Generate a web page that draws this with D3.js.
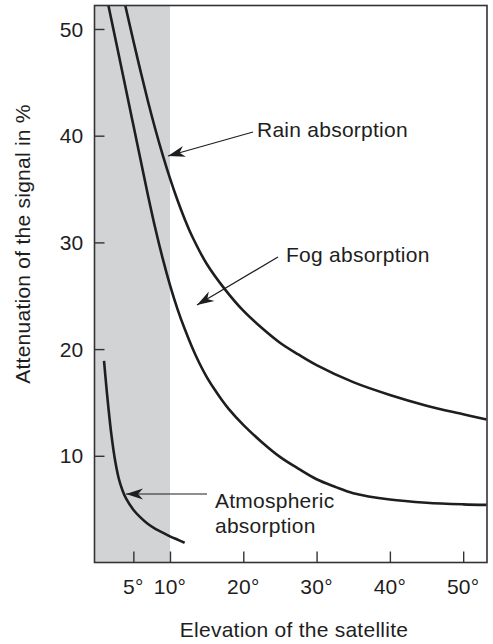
<!DOCTYPE html>
<html>
<head>
<meta charset="utf-8">
<script src="https://cdn.jsdelivr.net/npm/d3@7"></script>
<style>
html,body{margin:0;padding:0;background:#fff;}
svg{display:block;font-family:"Liberation Sans",Arial,Helvetica,sans-serif;}
</style>
</head>
<body>
<svg id="chart" width="493" height="644"></svg>
<script>
// ---- data ----
const xTicks = [5, 10, 20, 30, 40, 50];
const xTickLabels = ["5°", "10°", "20°", "30°", "40°", "50°"];
const yTicks = [10, 20, 30, 40, 50];
const yTickLabels = ["10", "20", "30", "40", "50"];
const shadedRange = [0, 10];

const rainElev = [3.9, 5, 6, 7, 8, 9, 10, 11, 12, 13, 15, 17.5, 20, 22.5, 25, 27.5, 30, 35, 40, 45, 50, 53.2];
const rainAtt  = [52.2, 48.9, 46.0, 43.2, 40.6, 38.2, 36.0, 34.0, 32.2, 30.6, 28.0, 25.6, 23.6, 22.0, 20.6, 19.5, 18.5, 16.9, 15.7, 14.7, 13.9, 13.4];

const fogElev = [1.6, 2.3, 3, 4, 5, 6, 7, 8, 9, 10, 11, 12, 13, 14, 15, 16, 17, 18, 20, 22.5, 25, 27.5, 30, 32.5, 35, 40, 45, 50, 53.2];
const fogAtt  = [52.2, 49.9, 47.6, 44.3, 41.0, 37.7, 34.4, 31.3, 28.5, 26.0, 23.8, 21.9, 20.2, 18.7, 17.4, 16.3, 15.3, 14.4, 12.9, 11.3, 9.9, 8.8, 7.8, 7.1, 6.5, 5.9, 5.6, 5.45, 5.4];

const atmElev = [1.0, 1.3, 1.6, 2.0, 2.5, 3.0, 3.5, 4.0, 5.0, 6.0, 7.0, 8.0, 9.0, 10.0, 11.0, 12.0];
const atmAtt  = [18.9, 16.6, 14.5, 12.0, 9.6, 7.9, 6.8, 6.0, 4.95, 4.2, 3.6, 3.15, 2.8, 2.45, 2.15, 1.85];

const labels = {
  rain: ["Rain absorption"],
  fog: ["Fog absorption"],
  atm: ["Atmospheric", "absorption"]
};
const xTitle = "Elevation of the satellite";
const yTitle = "Attenuation of the signal in %";

// ---- layout ----
const svg = d3.select("#chart");
const L = 94.5, R = 487, T = 5.5, B = 562.5;
const x = d3.scaleLinear().domain([-0.3, 53.25]).range([L, R]);
const y = d3.scaleLinear().domain([0, 52.2]).range([B, T]);
const ink = "#1e1e1e";
const fs = 21;
const ls = 0.25;

const defs = svg.append("defs");
defs.append("clipPath").attr("id", "clip")
  .append("rect").attr("x", L).attr("y", T).attr("width", R - L).attr("height", B - T);
defs.append("marker").attr("id", "arr")
  .attr("viewBox", "-18 -6 20 12").attr("refX", 0).attr("refY", 0)
  .attr("markerWidth", 20).attr("markerHeight", 12)
  .attr("markerUnits", "userSpaceOnUse").attr("orient", "auto")
  .append("path").attr("d", "M0,0 L-17,-5.5 L-12,0 L-17,5.5 Z").attr("fill", ink);

// shaded band
svg.append("rect")
  .attr("x", x(Math.max(shadedRange[0], x.domain()[0])) - (x(0) - L))
  .attr("y", T)
  .attr("width", x(shadedRange[1]) - L)
  .attr("height", B - T)
  .attr("fill", "#d1d3d4");

// curves
const line = d3.line().x(d => x(d[0])).y(d => y(d[1])).curve(d3.curveCatmullRom.alpha(0.5));
const g = svg.append("g").attr("clip-path", "url(#clip)");
[[rainElev, rainAtt], [fogElev, fogAtt], [atmElev, atmAtt]].forEach(([xs, ys]) => {
  g.append("path").datum(xs.map((v, i) => [v, ys[i]]))
    .attr("d", line).attr("fill", "none").attr("stroke", ink)
    .attr("stroke-width", 2.6).attr("stroke-linecap", "butt");
});

// frame
svg.append("rect").attr("x", L).attr("y", T).attr("width", R - L).attr("height", B - T)
  .attr("fill", "none").attr("stroke", "#333").attr("stroke-width", 1.6);

// axes (inward ticks)
const xAxis = svg.append("g").attr("transform", `translate(0,${B})`)
  .call(d3.axisTop(x).tickValues(xTicks).tickSize(11).tickFormat(() => ""));
xAxis.select(".domain").remove();
xAxis.selectAll("line").attr("stroke", "#333").attr("stroke-width", 1.4);

svg.append("g").selectAll("text").data(xTicks).join("text")
  .attr("x", d => x(d)).attr("y", 594).attr("text-anchor", "middle")
  .attr("font-size", fs).attr("letter-spacing", ls).attr("fill", ink)
  .text((d, i) => xTickLabels[i]);

const yAxis = svg.append("g").attr("transform", `translate(${L},0)`)
  .call(d3.axisRight(y).tickValues(yTicks).tickSize(10).tickFormat(() => ""));
yAxis.select(".domain").remove();
yAxis.selectAll("line").attr("stroke", "#333").attr("stroke-width", 1.4);

svg.append("g").selectAll("text").data(yTicks).join("text")
  .attr("x", 83.5).attr("y", d => y(d)).attr("dy", "0.36em").attr("text-anchor", "end")
  .attr("font-size", fs).attr("letter-spacing", ls).attr("fill", ink)
  .text((d, i) => yTickLabels[i]);

// titles
svg.append("text").attr("x", 294).attr("y", 637).attr("text-anchor", "middle")
  .attr("font-size", fs).attr("letter-spacing", ls).attr("fill", ink).text(xTitle);
svg.append("text").attr("transform", "translate(30,244) rotate(-90)")
  .attr("text-anchor", "middle").attr("font-size", fs).attr("letter-spacing", ls)
  .attr("fill", ink).text(yTitle);

// annotations
function arrow(x1, y1, x2, y2) {
  svg.append("line").attr("x1", x1).attr("y1", y1).attr("x2", x2).attr("y2", y2)
    .attr("stroke", ink).attr("stroke-width", 1.2).attr("marker-end", "url(#arr)");
}
function label(tx, ty, txt) {
  svg.append("text").attr("x", tx).attr("y", ty).attr("font-size", fs)
    .attr("letter-spacing", ls).attr("fill", ink).text(txt);
}
arrow(253, 132, 168, 156);
label(257, 137, labels.rain[0]);

arrow(278, 257, 197, 305);
label(286, 262, labels.fog[0]);

arrow(207, 494, 126, 494);
label(215, 508, labels.atm[0]);
label(215, 533, labels.atm[1]);
</script>
</body>
</html>
